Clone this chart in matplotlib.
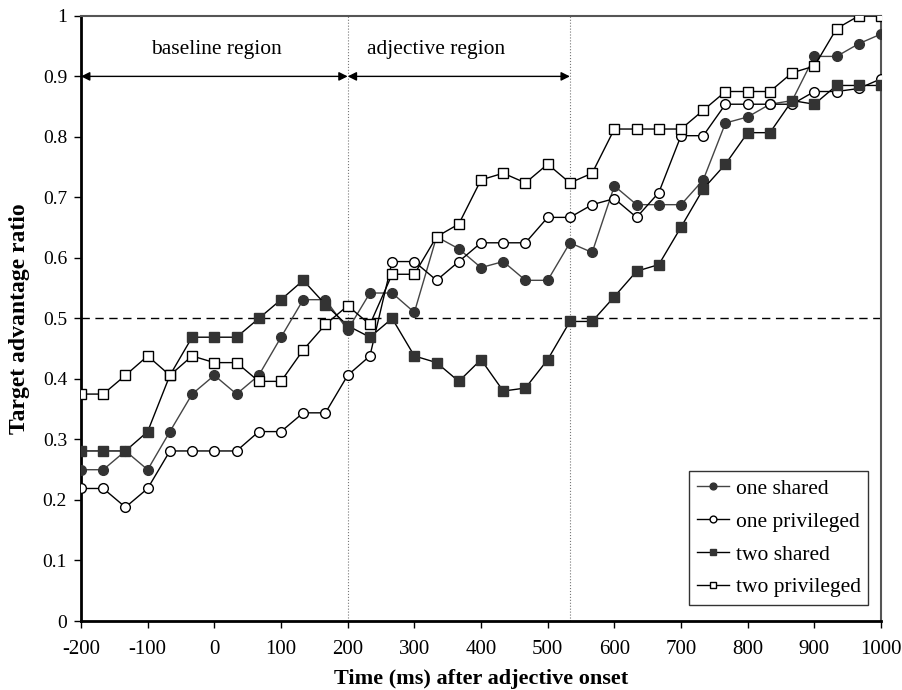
import matplotlib
matplotlib.use("Agg")
import matplotlib.pyplot as plt
import numpy as np

plt.rcParams['font.family'] = ['Liberation Serif', 'DejaVu Serif']

time_ms = [-200 + 100 * i / 3 for i in range(37)]

one_shared = [0.250, 0.250, 0.281, 0.250, 0.313, 0.375, 0.406, 0.375, 0.406, 0.469,
              0.531, 0.531, 0.481, 0.542, 0.542, 0.510, 0.635, 0.615, 0.584, 0.594,
              0.563, 0.563, 0.625, 0.609, 0.719, 0.688, 0.688, 0.688, 0.729, 0.823,
              0.833, 0.854, 0.860, 0.933, 0.933, 0.954, 0.970]
one_privileged = [0.219, 0.219, 0.188, 0.219, 0.281, 0.281, 0.281, 0.281, 0.313, 0.313,
                  0.344, 0.344, 0.406, 0.438, 0.594, 0.594, 0.563, 0.594, 0.625, 0.625,
                  0.625, 0.667, 0.667, 0.688, 0.698, 0.667, 0.708, 0.802, 0.802, 0.854,
                  0.854, 0.854, 0.854, 0.875, 0.875, 0.880, 0.896]
two_shared = [0.281, 0.281, 0.281, 0.313, 0.406, 0.469, 0.469, 0.469, 0.500, 0.531,
              0.563, 0.523, 0.488, 0.469, 0.500, 0.438, 0.427, 0.396, 0.432, 0.380,
              0.385, 0.432, 0.495, 0.495, 0.536, 0.578, 0.589, 0.651, 0.714, 0.755,
              0.807, 0.807, 0.860, 0.854, 0.885, 0.885, 0.885]
two_privileged = [0.375, 0.375, 0.406, 0.438, 0.406, 0.438, 0.427, 0.427, 0.396, 0.396,
                  0.448, 0.490, 0.521, 0.490, 0.573, 0.573, 0.635, 0.656, 0.729, 0.740,
                  0.724, 0.755, 0.724, 0.740, 0.813, 0.813, 0.813, 0.813, 0.844, 0.875,
                  0.875, 0.875, 0.906, 0.917, 0.979, 1.000, 1.000]

x_ticks = list(range(-200, 1001, 100))
y_ticks = [round(0.1 * i, 1) for i in range(11)]
y_tick_labels = ['0'] + [f'{v:.1f}' for v in y_ticks[1:-1]] + ['1']

fig = plt.figure(figsize=(9.03, 6.90), dpi=100)
ax = fig.add_axes([0.0897, 0.100, 0.886, 0.877])

dark = '#333333'
ax.plot(time_ms, one_shared, color='#444444', lw=1.0, marker='o', ms=7,
        mfc=dark, mec=dark, label='one shared', zorder=3)
ax.plot(time_ms, one_privileged, color='black', lw=1.0, marker='o', ms=7,
        mfc='white', mec='black', mew=1.0, label='one privileged', zorder=3)
ax.plot(time_ms, two_shared, color='black', lw=1.0, marker='s', ms=7,
        mfc=dark, mec=dark, label='two shared', zorder=3)
ax.plot(time_ms, two_privileged, color='black', lw=1.0, marker='s', ms=7,
        mfc='white', mec='black', mew=1.0, label='two privileged', zorder=4)

ax.axhline(0.5, color='black', lw=1.0, ls=(0, (6, 4)), zorder=2)
ax.axvline(200, color='#777777', lw=0.8, ls=':', zorder=1)
ax.axvline(533.3, color='#777777', lw=0.8, ls=':', zorder=1)

arrow_kw = dict(arrowstyle='<|-|>', color='black', lw=1.0, mutation_scale=13,
                shrinkA=0, shrinkB=0)
ax.annotate('', xy=(-200, 0.9), xytext=(200, 0.9), arrowprops=arrow_kw)
ax.annotate('', xy=(200, 0.9), xytext=(533.3, 0.9), arrowprops=arrow_kw)
ax.text(3, 0.945, 'baseline region', ha='center', va='center', fontsize=15.5)
ax.text(333, 0.945, 'adjective region', ha='center', va='center', fontsize=15.5)

ax.set_xlim(-200, 1000)
ax.set_ylim(0, 1)
ax.set_xticks(x_ticks)
ax.set_xticklabels([str(v) for v in x_ticks], fontsize=15)
ax.set_yticks(y_ticks)
ax.set_yticklabels(y_tick_labels, fontsize=14)
ax.tick_params(direction='out', length=5, width=1.0, colors='black')
ax.tick_params(axis='x', pad=9)
ax.tick_params(axis='y', pad=5)

ax.spines['left'].set_linewidth(2.0)
ax.spines['bottom'].set_linewidth(2.0)
ax.spines['top'].set_linewidth(1.5)
ax.spines['right'].set_linewidth(1.5)
ax.spines['top'].set_color('#555555')
ax.spines['right'].set_color('#555555')

ax.set_xlabel('Time (ms) after adjective onset', fontsize=16, fontweight='bold', labelpad=7)
ax.set_ylabel('Target advantage ratio', fontsize=17, fontweight='bold', labelpad=9)

leg = ax.legend(loc='lower right', bbox_to_anchor=(0.984, 0.0264), borderaxespad=0,
                fontsize=15.5, frameon=True, fancybox=False, edgecolor='black',
                markerscale=0.7, handlelength=1.5, handletextpad=0.3,
                labelspacing=0.6, borderpad=0.35)
leg.get_frame().set_linewidth(1.0)

fig.savefig('out.png', dpi=100)
